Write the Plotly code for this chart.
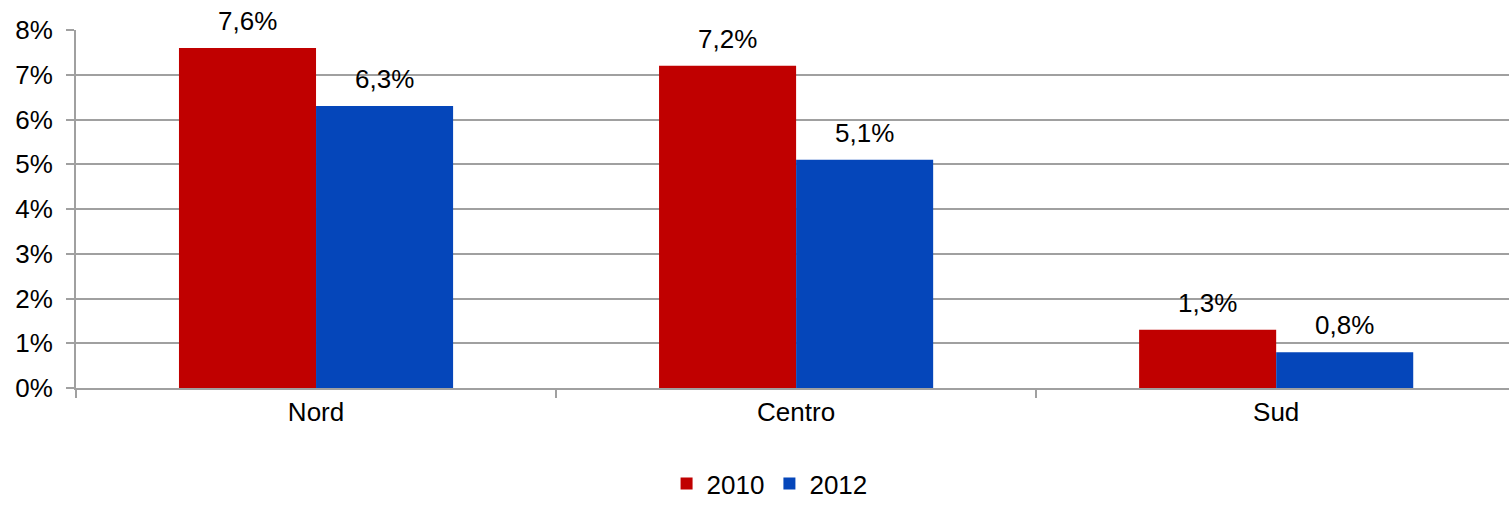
import plotly.graph_objects as go

regions = ["Nord", "Centro", "Sud"]
years = ["2010", "2012"]
share_2010 = [7.6, 7.2, 1.3]
share_2012 = [6.3, 5.1, 0.8]
colors = {"2010": "#C00000", "2012": "#0546BA"}
y_ticks = [0, 1, 2, 3, 4, 5, 6, 7, 8]

FONT = "Liberation Sans, Arial, sans-serif"
FS = 26
GRID = "#A0A0A0"

fig = go.Figure()
series = {"2010": share_2010, "2012": share_2012}
for yr in years:
    fig.add_trace(go.Bar(
        x=regions, y=series[yr], name=yr,
        marker=dict(color=colors[yr], line=dict(width=0)),
    ))

# value labels above each bar
offsets = {"2010": -68.5, "2012": 68.5}
for yr in years:
    for r, v in zip(regions, series[yr]):
        fig.add_annotation(
            x=r, y=v, xref="x", yref="y",
            text=f"{v:.1f}".replace(".", ",") + "%",
            showarrow=False, xshift=offsets[yr], yshift=27,
            xanchor="center", yanchor="middle",
            font=dict(family=FONT, size=FS, color="#000"),
        )

fig.update_layout(
    width=1509, height=507,
    margin=dict(l=76, r=0, t=30, b=119, autoexpand=False),
    paper_bgcolor="white", plot_bgcolor="white",
    barmode="group", bargap=0.429, bargroupgap=0,
    font=dict(family=FONT, size=FS, color="#000"),
    separators=",.",
    showlegend=True,
    legend=dict(
        orientation="h", x=0.484, xanchor="center",
        yref="container", y=0.0, yanchor="bottom",
        font=dict(family=FONT, size=FS, color="#000"),
        traceorder="normal", itemwidth=30,
    ),
)
fig.update_xaxes(
    range=[-0.5, 2.485],
    showline=True, linecolor=GRID, linewidth=2,
    ticks="outside", tickson="boundaries", ticklen=8, tickcolor=GRID, tickwidth=2,
    showgrid=False,
)
fig.update_yaxes(
    range=[0, 8], tickvals=y_ticks, ticktext=[f"{t}%" for t in y_ticks],
    showline=True, linecolor=GRID, linewidth=2,
    ticks="outside", ticklen=8, tickcolor=GRID, tickwidth=2,
    showgrid=True, gridcolor=GRID, gridwidth=2,
    zeroline=False, ticklabelstandoff=8,
)

fig.write_html("out.html")
